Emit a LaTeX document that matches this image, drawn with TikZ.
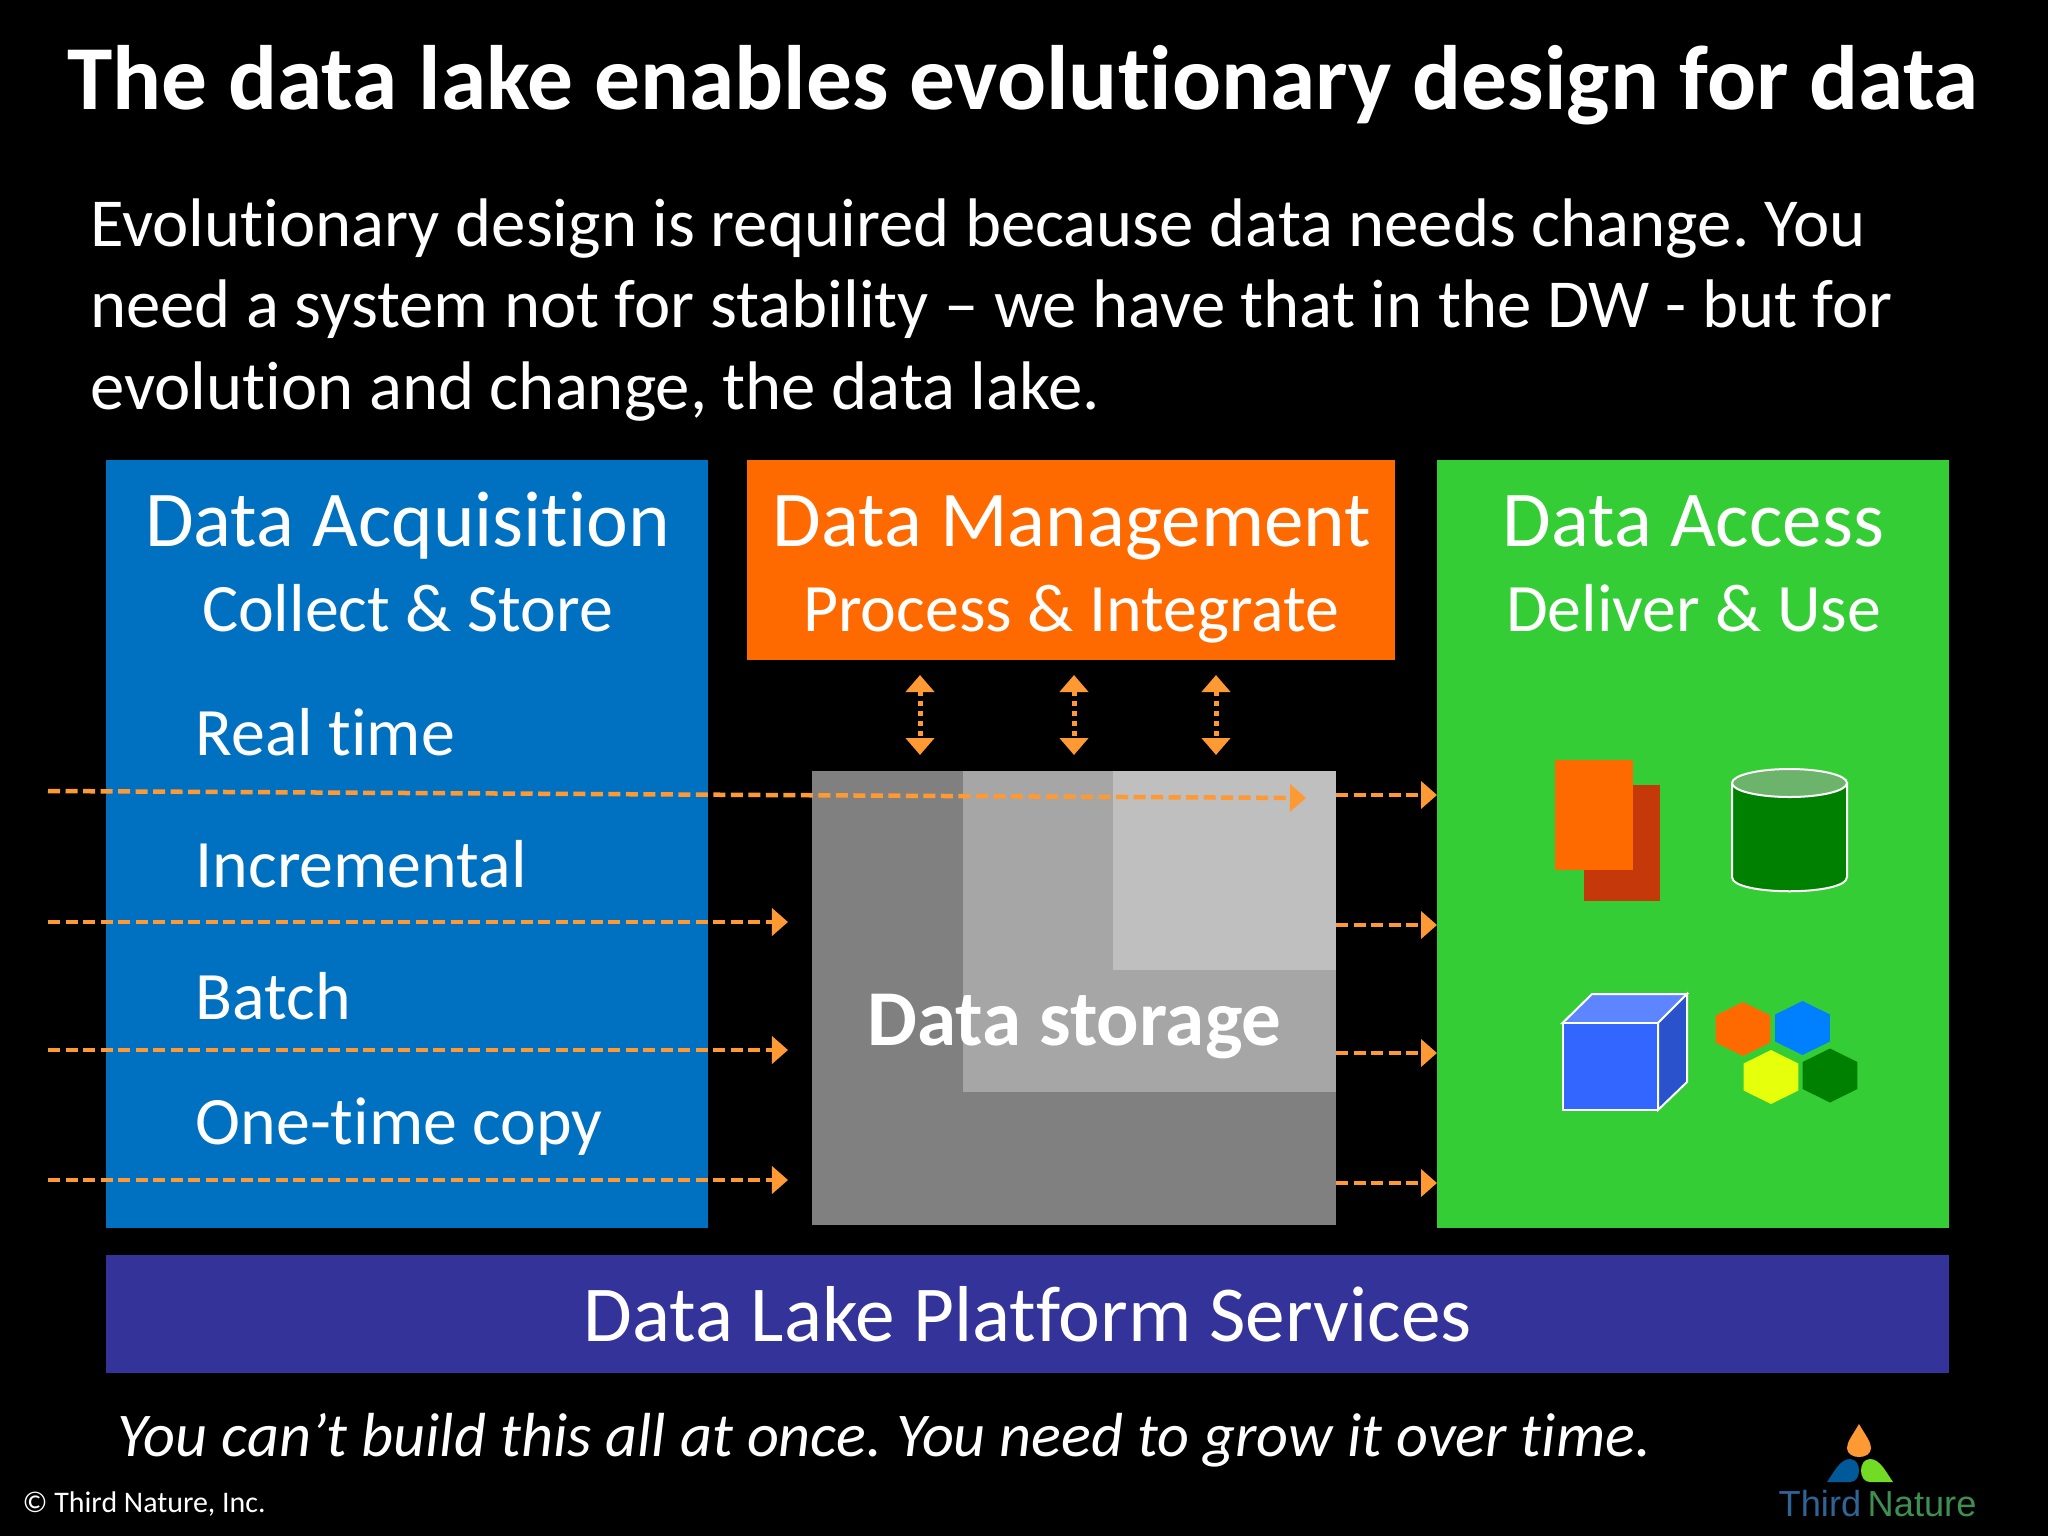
\documentclass[tikz,border=0pt]{standalone}
\usepackage{fontspec}
\setmainfont{Carlito}[Ligatures=NoCommon]
\newfontfamily\logofont{Liberation Sans}
\usetikzlibrary{shapes.geometric,arrows.meta,positioning}
\frenchspacing

\definecolor{acqblue}{HTML}{0070C0}
\definecolor{mgmtorange}{HTML}{FF6A00}
\definecolor{accessgreen}{HTML}{35CD35}
\definecolor{platformblue}{HTML}{333399}
\definecolor{flowcolor}{HTML}{FF9933}
\definecolor{sheetred}{HTML}{C5380A}
\definecolor{darkgreen}{HTML}{008000}
\definecolor{lidgreen}{HTML}{6CB36C}
\definecolor{cubeblue}{HTML}{3366FF}
\definecolor{cubetop}{HTML}{5C85FF}
\definecolor{cubeside}{HTML}{2A52CC}
\definecolor{hexblue}{HTML}{0080FF}
\definecolor{hexyellow}{HTML}{E6FF0A}
\definecolor{logoblue}{HTML}{2F6496}
\definecolor{logogreen}{HTML}{3F8F52}

\begin{document}
\begin{tikzpicture}[
    x=0.01cm, y=-0.01cm,
    panel/.style={rectangle, inner sep=0pt, outer sep=0pt},
    heading/.style={anchor=base, text=white, font=\fontsize{22.5}{27}\selectfont},
    subheading/.style={anchor=base, text=white, font=\fontsize{19.3}{23}\selectfont},
    mode/.style={anchor=base west, text=white, inner sep=0pt, font=\fontsize{19.3}{23}\selectfont},
    flow/.style={-{Triangle[length=0.16cm,width=0.27cm]}, flowcolor, line width=0.045cm, dash pattern=on 0.12cm off 0.055cm},
    sync/.style={{Triangle[length=0.17cm,width=0.28cm]}-{Triangle[length=0.17cm,width=0.28cm]}, flowcolor, line width=0.05cm, dash pattern=on 0.05cm off 0.05cm},
    hex/.style={regular polygon, regular polygon sides=6, regular polygon rotate=30, minimum size=0.54cm, inner sep=0pt, xscale=1.17}
]

% Page
\fill[black] (0,0) rectangle (2048,1536);
\useasboundingbox (0,0) rectangle (2048,1536);

% Title and text
\node[anchor=base, text=white, font=\fontsize{26}{31}\selectfont\bfseries] (title) at (1023,109) {The data lake enables evolutionary design for data};
\node[anchor=base west, text=white, inner sep=0pt, align=left, font=\fontsize{19.55}{23.2}\selectfont] (intro) at (89.5,409.5) {Evolutionary design is required because data needs change. You\\need a system not for stability – we have that in the DW - but for\\evolution and change, the data lake.};

% Panels
\node[panel, fill=acqblue, minimum width=6.02cm, minimum height=7.68cm] (acq) at (407,844) {};
\node[panel, fill=mgmtorange, minimum width=6.47cm, minimum height=2cm] (mgmt) at (1071,560) {};
\node[panel, fill=accessgreen, minimum width=5.12cm, minimum height=7.68cm] (access) at (1693,844) {};
\node[panel, fill=platformblue, minimum width=18.41cm, minimum height=1.18cm] (platform) at (1027.5,1314) {};

% Panel headings
\node[heading] (acqhead) at (407.5,546) {Data Acquisition};
\node[subheading] (acqsub) at (407.5,631) {Collect \& Store};
\node[heading] (mgmthead) at (1072,546) {Data Management};
\node[subheading] (mgmtsub) at (1071,631) {Process \& Integrate};
\node[heading] (accesshead) at (1693.5,546) {Data Access};
\node[subheading] (accesssub) at (1693.5,631) {Deliver \& Use};

% Acquisition modes
\node[mode] (realtime) at (195,755) {Real time};
\node[mode] (incremental) at (195,887) {Incremental};
\node[mode] (batch) at (195,1019) {Batch};
\node[mode] (onetime) at (195,1144) {One-time copy};

% Data storage
\node[panel, fill=black!50, minimum width=5.24cm, minimum height=4.54cm] (store) at (1074,998) {};
\fill[black!35] (962.5,771) rectangle (1336,1092);
\fill[black!25] (1112.5,771) rectangle (1336,970);
\node[anchor=base, text=white, font=\fontsize{22.5}{27}\selectfont\bfseries] (storelabel) at (1074.5,1045) {Data storage};

% Platform and footer
\node[anchor=base, text=white, font=\fontsize{22.55}{27}\selectfont] (platformlabel) at (1027.5,1341) {Data Lake Platform Services};
\node[anchor=base west, text=white, inner sep=0pt, font=\fontsize{17.7}{21}\selectfont\itshape] (footer) at (117,1456.5) {You can’t build this all at once. You need to grow it over time.};
\node[anchor=base west, text=white, inner sep=0pt, font=\fontsize{8.5}{10}\selectfont] (copyright) at (22,1512.5) {© Third Nature, Inc.};

% Flow ends
\coordinate (in1) at (48,791);
\coordinate (in2) at (48,922);
\coordinate (in3) at (48,1050);
\coordinate (in4) at (48,1180);
\coordinate (end1) at (1306,798);
\coordinate (end2) at (788,922);
\coordinate (end3) at (788,1050);
\coordinate (end4) at (788,1180);
\coordinate (out1) at (1336,795);
\coordinate (out2) at (1336,925);
\coordinate (out3) at (1336,1053);
\coordinate (out4) at (1336,1183);
\coordinate (acc1) at (1437,795);
\coordinate (acc2) at (1437,925);
\coordinate (acc3) at (1437,1053);
\coordinate (acc4) at (1437,1183);

% Arrows
\draw[flow] (in1) -- (end1);
\draw[flow] (in2) -- (end2);
\draw[flow] (in3) -- (end3);
\draw[flow] (in4) -- (end4);
\draw[flow] (out1) -- (acc1);
\draw[flow] (out2) -- (acc2);
\draw[flow] (out3) -- (acc3);
\draw[flow] (out4) -- (acc4);

% Management to storage
\coordinate (synctop1) at (920,675);
\coordinate (synctop2) at (1074,675);
\coordinate (synctop3) at (1216,675);
\coordinate (syncbot1) at (920,755);
\coordinate (syncbot2) at (1074,755);
\coordinate (syncbot3) at (1216,755);
\draw[sync] (synctop1) -- (syncbot1);
\draw[sync] (synctop2) -- (syncbot2);
\draw[sync] (synctop3) -- (syncbot3);

% Sheets icon
\fill[sheetred] (1584,785) rectangle (1660,901);
\fill[mgmtorange] (1555,760) rectangle (1633,870);

% Cylinder icon
\draw[white, line width=0.02cm, fill=darkgreen] (1732,783) -- (1732,877) .. controls (1732,896) and (1847,896) .. (1847,877) -- (1847,783) -- cycle;
\draw[white, line width=0.02cm, fill=lidgreen] (1789.5,783) ellipse [x radius=57.5, y radius=14];

% Cube icon
\draw[white, line width=0.02cm, fill=cubetop] (1562.5,1023) -- (1592,994) -- (1687,994) -- (1658,1023) -- cycle;
\draw[white, line width=0.02cm, fill=cubeside] (1658,1023) -- (1687,994) -- (1687,1082) -- (1658,1110) -- cycle;
\draw[white, line width=0.02cm, fill=cubeblue] (1562.5,1023) rectangle (1658,1110);

% Hexagon icon
\node[hex, fill=mgmtorange] (hexa) at (1743,1029) {};
\node[hex, fill=hexblue] (hexb) at (1802.5,1028) {};
\node[hex, fill=hexyellow] (hexc) at (1771,1077) {};
\node[hex, fill=darkgreen] (hexd) at (1830,1075.5) {};

% Logo
\fill[flowcolor] (1859,1424) .. controls (1866,1436) and (1871,1442) .. (1871,1448) .. controls (1871,1460) and (1847,1460) .. (1847,1448) .. controls (1847,1442) and (1852,1436) .. (1859,1424) -- cycle;
\fill[acqblue!80!black] (1827,1482) .. controls (1834,1472) and (1840,1459) .. (1850,1459) .. controls (1862,1459) and (1862,1482) .. (1850,1482) -- cycle;
\fill[accessgreen!70!yellow] (1893,1482) .. controls (1886,1472) and (1880,1459) .. (1870,1459) .. controls (1858,1459) and (1858,1482) .. (1870,1482) -- cycle;
\node[anchor=base west, inner sep=0pt, text=logoblue, font=\fontsize{10.3}{12}\logofont] (logothird) at (1778,1516) {Third};
\node[anchor=base west, inner sep=0pt, text=logogreen, font=\fontsize{10.3}{12}\logofont] (logonature) at (1867,1516) {Nature};

\end{tikzpicture}
\end{document}
